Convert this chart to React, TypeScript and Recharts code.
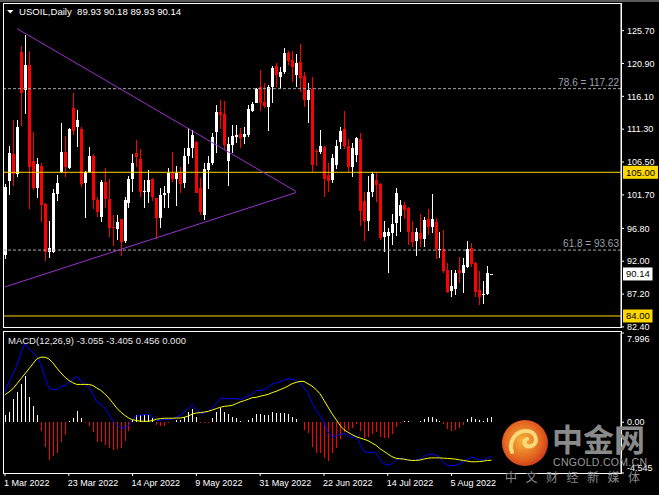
import {
  ComposedChart,
  Bar,
  Line,
  XAxis,
  YAxis,
  ReferenceLine,
} from "recharts";

// ---------------------------------------------------------------------------
// Data (USOIL daily)
// ---------------------------------------------------------------------------

const FONT = "'Liberation Sans', Arial, sans-serif";

const tickBars = [0, 16, 32, 48, 64, 80, 96, 112];
const tickLabels = [
  "1 Mar 2022",
  "23 Mar 2022",
  "14 Apr 2022",
  "9 May 2022",
  "31 May 2022",
  "22 Jun 2022",
  "14 Jul 2022",
  "5 Aug 2022",
];

const opens = [
  92.9, 103.77, 107.7, 104.75, 122.62, 117.03, 120.68, 106.65, 102.66, 105.96,
  100.4, 93.4, 93.4, 101.87, 105.09, 107.97, 105.68, 114.35, 111.57, 111.33,
  103.39, 105.09, 107.38, 100.95, 98.52, 103.53, 101.1, 96.96, 96.72, 98.13,
  95.02, 100.56, 103.98, 107.87, 107.0, 102.17, 102.17, 103.98, 101.19, 98.37,
  101.68, 101.92, 104.95, 104.06, 105.09, 103.39, 107.38, 108.48, 109.38, 102.66,
  98.76, 105.34, 106.41, 110.94, 113.86, 113.52, 106.7, 108.99, 110.2, 110.55,
  110.1, 110.45, 114.0, 115.17, 117.42, 115.32, 114.6, 117.52, 120.53, 118.98,
  119.71, 122.48, 121.41, 119.22, 121.17, 119.07, 115.57, 117.17, 108.09, 107.94,
  108.67, 104.6, 103.87, 106.07, 109.36, 111.3, 108.86, 105.82, 107.53, 109.82,
  100.81, 97.89, 102.08, 103.87, 103.28, 95.6, 95.7, 96.19, 97.64, 98.61,
  100.22, 99.83, 96.33, 95.01, 96.09, 95.21, 98.14, 96.97, 97.79, 93.65,
  93.75, 90.72, 87.69, 87.89, 90.72, 90.33, 91.21, 93.9, 91.69, 87.79,
  87.01, 87.21, 89.93,
];

const highs = [
  103.3, 108.84, 112.64, 112.64, 123.46, 125.06, 122.73, 110.85, 107.04, 106.3,
  100.55, 97.88, 102.56, 104.6, 112.25, 110.3, 111.4, 116.54, 114.1, 111.67,
  105.2, 108.75, 107.63, 101.44, 103.87, 105.58, 103.97, 98.76, 98.76, 98.22,
  101.33, 104.47, 107.63, 109.72, 108.4, 103.87, 105.34, 104.23, 101.3, 102.66,
  103.0, 105.68, 108.01, 105.92, 105.82, 108.48, 111.43, 111.18, 109.5, 104.23,
  106.41, 107.38, 110.7, 114.83, 115.57, 115.42, 110.2, 111.91, 111.91, 111.52,
  111.57, 114.83, 115.32, 117.27, 119.95, 118.0, 117.76, 120.58, 120.92, 120.44,
  123.12, 122.72, 122.72, 122.28, 123.75, 119.66, 118.1, 118.88, 108.4, 111.18,
  108.91, 106.36, 107.7, 109.79, 111.55, 113.96, 109.82, 109.33, 110.16, 110.79,
  102.08, 104.46, 105.09, 104.95, 103.38, 97.88, 96.82, 98.92, 102.66, 100.95,
  100.7, 99.93, 97.88, 96.82, 98.92, 98.53, 99.59, 101.83, 98.28, 96.33,
  96.58, 91.79, 90.72, 90.72, 92.57, 92.43, 95.02, 94.62, 91.94, 90.62,
  89.06, 91.31, 90.18,
];

const lows = [
  92.4, 101.68, 103.04, 104.36, 111.77, 113.52, 99.59, 102.42, 101.2, 97.78,
  92.08, 92.5, 93.16, 100.85, 104.9, 104.36, 105.48, 110.45, 108.65, 102.9,
  98.37, 104.85, 99.59, 98.42, 97.78, 99.83, 95.59, 94.23, 95.11, 92.77,
  94.72, 99.74, 102.17, 105.82, 101.43, 99.74, 100.47, 100.86, 95.21, 96.9,
  99.74, 99.74, 103.63, 100.12, 102.02, 102.66, 106.19, 107.14, 101.92, 98.76,
  98.03, 102.51, 106.07, 107.87, 111.35, 108.26, 103.0, 107.87, 109.24, 108.5,
  109.14, 110.2, 113.86, 115.1, 113.96, 114.45, 111.08, 115.17, 117.52, 117.13,
  119.32, 120.68, 118.24, 117.52, 116.74, 114.5, 112.25, 105.09, 105.87, 107.7,
  101.43, 102.17, 103.48, 105.43, 108.4, 108.38, 105.09, 104.36, 106.55, 97.15,
  95.0, 96.43, 101.43, 100.7, 95.1, 93.4, 90.33, 94.38, 95.7, 96.33,
  98.12, 94.38, 94.14, 92.77, 94.14, 94.04, 95.85, 96.19, 92.28, 92.43,
  90.23, 87.4, 86.82, 87.06, 88.87, 87.4, 90.96, 91.11, 86.72, 85.6,
  85.75, 87.1, 89.93,
];

const closes = [
  102.9, 107.78, 104.75, 111.66, 116.63, 120.68, 105.82, 102.66, 106.21, 100.18,
  93.4, 93.9, 102.02, 103.44, 107.97, 105.82, 111.33, 111.09, 112.64, 103.29,
  105.09, 107.38, 100.95, 99.25, 103.53, 101.1, 96.82, 96.82, 97.79, 94.87,
  100.95, 103.98, 106.31, 107.29, 102.17, 102.32, 103.87, 101.43, 98.37, 101.68,
  102.02, 104.95, 103.98, 104.84, 103.29, 107.38, 108.48, 110.45, 102.02, 99.25,
  105.48, 106.41, 110.2, 113.86, 113.37, 108.99, 109.14, 110.3, 110.45, 109.97,
  110.6, 114.25, 114.98, 117.17, 115.17, 114.69, 117.52, 120.29, 119.22, 119.71,
  122.48, 121.31, 120.44, 121.02, 118.83, 115.57, 117.03, 106.07, 107.94, 108.77,
  104.02, 103.77, 107.04, 108.91, 111.06, 108.86, 105.82, 108.5, 109.97, 99.34,
  97.89, 102.08, 104.75, 103.14, 95.35, 96.33, 96.33, 97.45, 101.93, 100.22,
  99.49, 96.33, 94.87, 96.33, 95.21, 98.04, 96.97, 98.14, 93.75, 93.75,
  90.62, 87.55, 88.38, 90.33, 90.33, 91.45, 93.75, 91.6, 87.55, 86.82,
  87.21, 90.33, 90.14,
];

const macdMain = [
  2.71, 3.6, 4.34, 5.09, 6.28, 7.02, 6.58, 6.28, 5.83, 5.24,
  4.05, 3.07, 2.94, 2.94, 3.22, 3.3, 3.54, 3.84, 4.13, 3.66,
  3.45, 3.16, 2.56, 1.82, 1.67, 1.28, 0.78, 0.18, -0.21, -0.51,
  -0.51, -0.27, 0.27, 0.56, 0.63, 0.68, 0.68, 0.48, 0.18, 0.18,
  0.27, 0.27, 0.27, 0.48, 0.63, 0.92, 1.28, 1.58, 1.16, 0.78,
  0.83, 0.98, 1.28, 1.67, 2.18, 2.11, 2.11, 2.11, 2.11, 2.03,
  2.18, 2.35, 2.56, 2.83, 2.86, 2.92, 3.16, 3.42, 3.52, 3.6,
  3.81, 3.9, 3.84, 3.75, 3.54, 3.07, 2.65, 1.75, 1.07, 0.63,
  -0.03, -0.86, -1.31, -1.22, -1.1, -1.01, -1.16, -1.4, -1.22, -1.9,
  -2.59, -2.71, -2.65, -2.74, -3.3, -3.72, -3.84, -3.72, -3.39, -3.24,
  -3.27, -3.39, -3.42, -3.39, -3.3, -3.07, -2.89, -2.83, -2.94, -3.12,
  -3.6, -3.84, -3.9, -3.84, -3.72, -3.54, -3.3, -3.12, -3.24, -3.37,
  -3.39, -3.19, -3.055,
];

const macdSignal = [
  2.47, 2.71, 3.01, 3.45, 3.9, 4.34, 4.79, 5.24, 5.68, 5.83,
  5.83, 5.68, 5.33, 4.85, 4.43, 4.05, 3.75, 3.54, 3.39, 3.39,
  3.39, 3.39, 3.3, 3.07, 2.86, 2.56, 2.18, 1.75, 1.28, 0.92,
  0.63, 0.38, 0.23, 0.15, 0.09, 0.09, 0.09, 0.15, 0.27, 0.33,
  0.36, 0.36, 0.36, 0.38, 0.38, 0.45, 0.56, 0.74, 0.83, 0.86,
  0.92, 0.98, 1.1, 1.22, 1.34, 1.43, 1.46, 1.52, 1.67, 1.82,
  1.93, 2.06, 2.2, 2.23, 2.33, 2.41, 2.5, 2.65, 2.77, 2.92,
  3.07, 3.24, 3.45, 3.57, 3.66, 3.66, 3.45, 3.24, 2.94, 2.56,
  1.97, 1.37, 0.78, 0.27, -0.27, -0.66, -0.89, -1.1, -1.28, -1.4,
  -1.52, -1.64, -1.85, -2.05, -2.35, -2.59, -2.83, -3.07, -3.22, -3.27,
  -3.3, -3.37, -3.42, -3.42, -3.39, -3.3, -3.22, -3.19, -3.19, -3.19,
  -3.22, -3.24, -3.27, -3.3, -3.37, -3.42, -3.48, -3.54, -3.54, -3.52,
  -3.48, -3.42, -3.405,
];

const macdHist = [
  0.66, 0.95, 2.08, 2.74, 3.42, 4.17, 2.23, 1.43, 0.65, -0.74,
  -2.23, -3.34, -3.04, -2.74, -1.73, -1.13, 0.15, 0.36, 0.98, 0.36,
  -0.06, -0.3, -0.89, -1.78, -1.78, -2.08, -2.33, -2.44, -2.38, -2.33,
  -1.64, -0.74, 0.24, 0.66, 0.66, 0.66, 0.66, 0.36, -0.24, -0.36,
  -0.36, -0.06, 0.06, 0.24, 0.24, 0.45, 0.89, 1.19, 0.45, -0.09,
  -0.09, -0.06, 0.36, 0.89, 1.25, 0.89, 0.74, 0.45, 0.36, 0.15,
  0.06, 0.24, 0.38, 0.78, 0.78, 0.63, 0.68, 0.92, 0.83, 0.83,
  0.83, 0.78, 0.48, 0.33, 0, -0.71, -0.92, -2.2, -2.71, -2.79,
  -3.24, -3.48, -2.79, -2.29, -1.46, -0.86, -0.71, -0.51, -0.12, -0.81,
  -1.4, -1.31, -1.01, -0.86, -1.31, -1.4, -1.4, -1.01, -0.41, -0.03,
  0.15, 0.15, 0, 0.03, 0.15, 0.27, 0.45, 0.48, 0.27, 0.15,
  -0.12, -0.56, -0.78, -0.66, -0.48, -0.27, 0.33, 0.51, 0.33, 0.21,
  0.09, 0.36, 0.456,
];

// trendlines: [bar index, price]
const trendUpper = [[3, 126.0], [73, 102.2]];
const trendLower = [[0, 88.25], [73, 102.04]];

const priceTicks = [125.7, 120.9, 116.1, 111.3, 106.5, 101.7, 96.8, 92.0, 87.2, 82.4];
const macdTicks = [7.996, 0, -4.545];
const macdTickLabels = ["7.996", "0.00", "-4.545"];

// 123 bars + empty room on the right (MT4 chart shift)
const SLOTS = 155;

const pick = (pts: number[][], i: number) => {
  const p = pts.find((q) => q[0] === i);
  return p ? p[1] : null;
};

const rows = Array.from({ length: SLOTS }, (_, i) => {
  const has = i < opens.length;
  return {
    i,
    o: has ? opens[i] : null,
    h: has ? highs[i] : null,
    l: has ? lows[i] : null,
    c: has ? closes[i] : null,
    range: has ? [lows[i], highs[i]] : null,
    upper: pick(trendUpper, i),
    lower: pick(trendLower, i),
    macd: has ? macdMain[i] : null,
    signal: has ? macdSignal[i] : null,
    histUp: has && macdHist[i] >= 0 ? macdHist[i] : null,
    histDown: has && macdHist[i] < 0 ? macdHist[i] : null,
  };
});

// ---------------------------------------------------------------------------
// Shapes
// ---------------------------------------------------------------------------

function Candle(props: any) {
  const { x, y, width, height, payload } = props;
  if (!payload || payload.o == null) return null;
  const { o, h, l, c } = payload;
  const top = Math.min(y, y + height);
  const span = Math.abs(height);
  const toY = (v: number) => (h - l > 0 ? top + ((h - v) / (h - l)) * span : top);
  const cx = Math.round(x + width / 2);
  const color = c >= o ? "#ffffff" : "#ff0000";
  const bt = toY(Math.max(o, c));
  const bb = toY(Math.min(o, c));
  return (
    <g shapeRendering="crispEdges">
      <rect x={cx} y={top} width={1} height={Math.max(span, 1)} fill={color} />
      <rect x={cx - 1} y={bt} width={3} height={Math.max(bb - bt, 1)} fill={color} />
    </g>
  );
}

function HistBar(props: any) {
  const { x, y, width, height, color } = props;
  if (height == null || isNaN(height)) return null;
  const top = Math.min(y, y + height);
  const cx = Math.round(x + width / 2);
  return (
    <rect
      x={cx}
      y={top}
      width={1}
      height={Math.abs(height)}
      fill={color}
      shapeRendering="crispEdges"
    />
  );
}

function LevelText(props: any) {
  const { viewBox, text } = props;
  if (!viewBox) return null;
  return (
    <text
      x={viewBox.x + viewBox.width - 2}
      y={viewBox.y - 3}
      textAnchor="end"
      fill="#9aa3ad"
      fontSize={10}
      fontFamily={FONT}
    >
      {text}
    </text>
  );
}

function PriceBox(props: any) {
  const { viewBox, text, bg } = props;
  if (!viewBox) return null;
  const bx = viewBox.x + viewBox.width + 2;
  const w = text.length * 5.5 + 2;
  return (
    <g>
      <rect x={bx} y={viewBox.y - 6.5} width={w} height={13} fill={bg} />
      <text x={bx + 3} y={viewBox.y + 3.5} fill="#000" fontSize={9.5} fontFamily={FONT}>
        {text}
      </text>
    </g>
  );
}

function DateTick(props: any) {
  const { x, y, payload } = props;
  const k = tickBars.indexOf(payload.value);
  if (k < 0) return null;
  return (
    <text x={x - 1} y={y + 8} fill="#fff" fontSize={9} fontFamily={FONT} textAnchor="start">
      {tickLabels[k]}
    </text>
  );
}

function MacdTick(props: any) {
  const { x, y, payload } = props;
  const k = macdTicks.indexOf(payload.value);
  const dy = k === 0 ? 6 : k === 2 ? -5 : 0;
  return (
    <text x={x} y={y + dy + 3} fill="#fff" fontSize={9} fontFamily={FONT} textAnchor="start">
      {macdTickLabels[k]}
    </text>
  );
}

// ---------------------------------------------------------------------------
// Component
// ---------------------------------------------------------------------------

export default function App() {
  const lastClose = closes[closes.length - 1];
  return (
    <div
      style={{
        position: "absolute",
        left: 0,
        top: 0,
        width: 659,
        height: 495,
        background: "#000",
        overflow: "hidden",
        fontFamily: FONT,
      }}
    >
      {/* main price panel */}
      <div style={{ position: "absolute", left: 0, top: 0 }}>
        <ComposedChart
          width={659}
          height={330}
          data={rows}
          margin={{ top: 3, right: 0, bottom: 3, left: 3 }}
          barCategoryGap="10%"
        >
          <XAxis dataKey="i" type="category" hide />
          <YAxis
            orientation="right"
            width={38}
            domain={[82.39, 129.74]}
            ticks={priceTicks}
            interval={0}
            tickFormatter={(v: number) => v.toFixed(2)}
            tick={{ fill: "#fff", fontSize: 9, fontFamily: FONT }}
            tickSize={3}
            tickMargin={3}
            stroke="#fff"
            allowDataOverflow
          />

          <ReferenceLine y={117.22} stroke="#a8a8a8" strokeDasharray="3 2" label={<LevelText text="78.6 = 117.22" />} />
          <ReferenceLine y={93.63} stroke="#a8a8a8" strokeDasharray="3 2" label={<LevelText text="61.8 = 93.63" />} />
          <ReferenceLine y={105} stroke="#ffd700" label={<PriceBox text="105.00" bg="#ffd700" />} />
          <ReferenceLine y={84} stroke="#ffd700" label={<PriceBox text="84.00" bg="#ffd700" />} />
          <ReferenceLine y={lastClose} stroke="none" label={<PriceBox text={lastClose.toFixed(2)} bg="#ffffff" />} />

          <Line dataKey="upper" stroke="#9932cc" strokeWidth={1} dot={false} activeDot={false} connectNulls isAnimationActive={false} />
          <Line dataKey="lower" stroke="#9932cc" strokeWidth={1} dot={false} activeDot={false} connectNulls isAnimationActive={false} />

          <Bar dataKey="range" shape={(p: any) => <Candle {...p} />} isAnimationActive={false} />
        </ComposedChart>
      </div>

      {/* MACD panel */}
      <div style={{ position: "absolute", left: 0, top: 331 }}>
        <ComposedChart
          width={659}
          height={164}
          data={rows}
          margin={{ top: 2, right: 0, bottom: 0, left: 3 }}
          barCategoryGap="10%"
        >
          <XAxis
            dataKey="i"
            type="category"
            height={22}
            ticks={tickBars}
            interval={0}
            axisLine={false}
            tickSize={3}
            tickMargin={2}
            stroke="#fff"
            tick={(p: any) => <DateTick {...p} />}
          />
          <YAxis
            orientation="right"
            width={38}
            domain={[-4.545, 7.996]}
            ticks={macdTicks}
            interval={0}
            tickSize={3}
            tickMargin={3}
            stroke="#fff"
            tick={(p: any) => <MacdTick {...p} />}
            allowDataOverflow
          />
          <Bar dataKey="histUp" stackId="h" shape={(p: any) => <HistBar {...p} color="#ffffff" />} isAnimationActive={false} />
          <Bar dataKey="histDown" stackId="h" shape={(p: any) => <HistBar {...p} color="#ff0000" />} isAnimationActive={false} />
          <Line dataKey="macd" type="linear" stroke="#0000ff" strokeWidth={1} dot={false} activeDot={false} isAnimationActive={false} />
          <Line dataKey="signal" type="linear" stroke="#ffff00" strokeWidth={1} dot={false} activeDot={false} isAnimationActive={false} />
        </ComposedChart>
      </div>

      {/* frames */}
      <div style={{ position: "absolute", left: 0, top: 0, width: 659, height: 2, background: "#5a5a5a" }} />
      <div style={{ position: "absolute", left: 3, top: 3, width: 619, height: 325, border: "1px solid #fff", boxSizing: "border-box", pointerEvents: "none" }} />
      <div style={{ position: "absolute", left: 3, top: 331, width: 619, height: 143, border: "1px solid #fff", boxSizing: "border-box", pointerEvents: "none" }} />

      {/* titles */}
      <svg style={{ position: "absolute", left: 0, top: 0 }} width={20} height={20}>
        <polygon points="7,10 13.5,10 10.25,13.5" fill="#fff" />
      </svg>
      <div style={{ position: "absolute", left: 19, top: 6, fontSize: 9.6, lineHeight: "12px", color: "#fff", whiteSpace: "pre" }}>
        {"USOIL,Daily  89.93 90.18 89.93 90.14"}
      </div>
      <div style={{ position: "absolute", left: 8, top: 335, fontSize: 9.5, lineHeight: "12px", color: "#e8e8e8", whiteSpace: "pre" }}>
        {"MACD(12,26,9) -3.055 -3.405 0.456 0.000"}
      </div>

      {/* watermark */}
      <svg style={{ position: "absolute", left: 500, top: 418 }} width={60} height={52}>
        <defs>
          <radialGradient id="wmg" cx="45%" cy="45%" r="60%">
            <stop offset="0%" stopColor="#f6b53a" />
            <stop offset="70%" stopColor="#e2611f" />
            <stop offset="100%" stopColor="#c9361a" />
          </radialGradient>
        </defs>
        <circle cx={25} cy={25} r={23} fill="url(#wmg)" />
        <path
          d="M12 34 C8 24, 16 12, 27 13 C37 14, 39 26, 31 28 C25 30, 22 23, 27 21"
          fill="none"
          stroke="#fbd97a"
          strokeWidth={4}
          strokeLinecap="round"
        />
      </svg>
      <div
        style={{
          position: "absolute",
          left: 552,
          top: 419,
          fontSize: 31,
          lineHeight: "38px",
          fontWeight: 700,
          color: "#8a8a8a",
          fontFamily: "'Noto Sans CJK SC', sans-serif",
        }}
      >
        中金网
      </div>
      <div style={{ position: "absolute", left: 553, top: 456, fontSize: 10.5, lineHeight: "12px", color: "#9a9a9a", letterSpacing: 0.3 }}>
        CNGOLD.COM.CN
      </div>
      <div
        style={{
          position: "absolute",
          left: 505,
          top: 469,
          fontSize: 12,
          lineHeight: "16px",
          color: "#8a8a8a",
          letterSpacing: 8.5,
          fontFamily: "'Noto Sans CJK SC', sans-serif",
        }}
      >
        中文财经新媒体
      </div>
    </div>
  );
}
